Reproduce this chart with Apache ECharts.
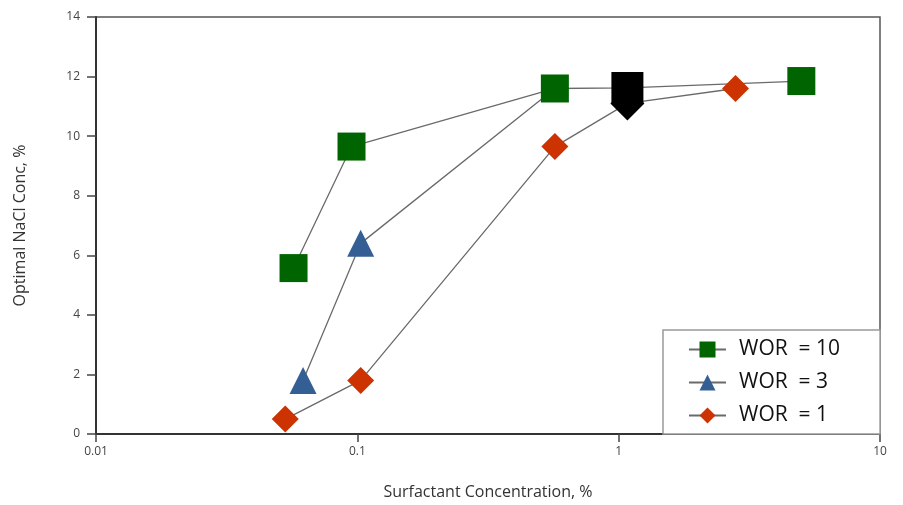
<!DOCTYPE html>
<html>
<head>
<meta charset="utf-8">
<script src="https://cdn.jsdelivr.net/npm/echarts@6/dist/echarts.min.js"></script>
<style>
  html, body { margin: 0; padding: 0; background: #fff; }
  #main { width: 903px; height: 505px; }
</style>
</head>
<body>
<div id="main"></div>
<script>
// values
const wor10X = [0.057, 0.095, 0.57, 1.08, 5.0];
const wor10Y = [5.57, 9.65, 11.6, 11.62, 11.85];
const wor3X = [0.062, 0.103, 0.57];
const wor3Y = [1.8, 6.4, 11.6];
const wor1X = [0.053, 0.103, 0.57, 1.08, 2.8];
const wor1Y = [0.5, 1.8, 9.65, 11.1, 11.6];
const xTicks = [0.01, 0.1, 1, 10];
const yTicks = [0, 2, 4, 6, 8, 10, 12, 14];

const chart = echarts.init(document.getElementById('main'));

function pts(xs, ys) {
  return xs.map((x, i) => [x, ys[i]]);
}
let d10 = pts(wor10X, wor10Y);
let d1 = pts(wor1X, wor1Y);
// the point near 1% is drawn black in the original
d10[3] = { value: d10[3], symbol: 'rect', symbolSize: 32, itemStyle: { color: '#000' } };
d1[3] = { value: d1[3], symbol: 'diamond', symbolSize: 34, itemStyle: { color: '#000' } };

const lineStyle = { color: '#6a6a6a', width: 1.3 };
const font = "'Open Sans', 'Liberation Sans', sans-serif";

const option = {
  animation: false,
  backgroundColor: '#fff',
  grid: {
    left: 96, right: 23, top: 17, bottom: 70,
    show: true, borderColor: '#555', borderWidth: 1.5
  },
  legend: {
    data: ['WOR  = 10', 'WOR  = 3', 'WOR  = 1'],
    orient: 'vertical',
    left: 663, top: 330,
    padding: [9, 40, 8, 25],
    itemWidth: 37, itemHeight: 20, itemGap: 12,
    backgroundColor: '#fff',
    borderColor: '#999', borderWidth: 1.5,
    textStyle: { fontSize: 21, color: '#111', fontFamily: font, padding: [0, 0, 0, 8] }
  },
  xAxis: {
    type: 'log', logBase: 10, min: 0.01, max: 10,
    name: 'Surfactant Concentration, %',
    nameLocation: 'middle', nameGap: 50,
    nameTextStyle: { fontSize: 16, color: '#333', fontFamily: font },
    axisLine: { lineStyle: { color: '#333', width: 2 } },
    axisTick: { show: true, length: 8, lineStyle: { color: '#444', width: 1.5 } },
    axisLabel: {
      fontSize: 12, color: '#444', fontFamily: font, margin: 12,
      formatter: v => xTicks.find(t => Math.abs(t - v) < t * 1e-6) !== undefined ? String(v) : ''
    },
    splitLine: { show: false }
  },
  yAxis: {
    type: 'value', min: 0, max: 14, interval: 2,
    name: 'Optimal NaCl Conc, %',
    nameLocation: 'middle', nameGap: 68,
    nameTextStyle: { fontSize: 16, color: '#333', fontFamily: font },
    axisLine: { show: true, lineStyle: { color: '#333', width: 2 } },
    axisTick: { show: true, length: 9, lineStyle: { color: '#444', width: 1.5 } },
    axisLabel: {
      fontSize: 12, color: '#444', fontFamily: font, margin: 16,
      formatter: v => yTicks.indexOf(v) >= 0 ? String(v) : ''
    },
    splitLine: { show: false }
  },
  series: [
    {
      name: 'WOR  = 3', type: 'line', data: pts(wor3X, wor3Y),
      symbol: 'triangle', symbolSize: 27,
      itemStyle: { color: '#345f94' }, lineStyle: lineStyle
    },
    {
      name: 'WOR  = 10', type: 'line', data: d10,
      symbol: 'rect', symbolSize: 28,
      itemStyle: { color: '#006400' }, lineStyle: lineStyle
    },
    {
      name: 'WOR  = 1', type: 'line', data: d1,
      symbol: 'diamond', symbolSize: 27,
      itemStyle: { color: '#cc3300' }, lineStyle: lineStyle
    }
  ]
};
chart.setOption(option);
</script>
</body>
</html>
